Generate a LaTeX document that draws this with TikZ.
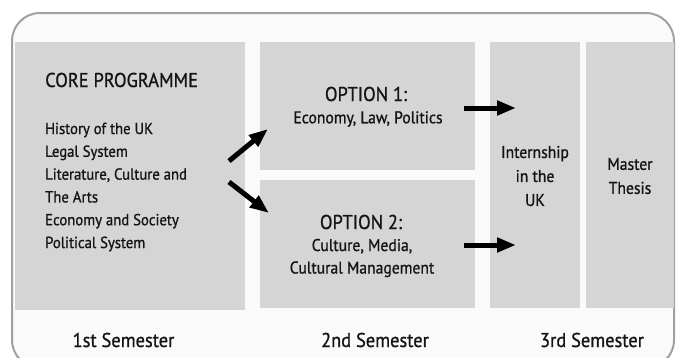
\documentclass[tikz,border=0pt]{standalone}
\usepackage{fontspec}
\setmainfont{PT Sans}[FakeStretch=0.92,FakeBold=0.9]
\usetikzlibrary{arrows.meta}
\definecolor{boxgray}{HTML}{D5D5D5}
\definecolor{framegray}{HTML}{A0A0A0}
\definecolor{txt}{HTML}{141414}
\definecolor{bg}{HTML}{FAFAFA}
\begin{document}
\begin{tikzpicture}[x=1pt,y=-1pt,
  box/.style={draw=none,fill=boxgray,anchor=north west,inner sep=0pt},
  lbl/.style={text=txt,inner sep=0pt},
  big/.style={lbl,font=\fontsize{20}{24}\selectfont},
  small/.style={lbl,font=\fontsize{16}{22.8}\selectfont},
  sub/.style={lbl,font=\fontsize{17}{22.5}\selectfont},
  mid/.style={lbl,font=\fontsize{17}{24}\selectfont},
  arr/.style={line width=5pt,-{Triangle[length=19pt,width=14pt]},black}]
\useasboundingbox (0,0) rectangle (681,357);
\clip (0,0) rectangle (681,357);
\fill[white] (0,0) rectangle (681,357);
\draw[draw=framegray,line width=2pt,fill=bg,rounded corners=28pt] (12,13) rectangle (674,368);
% boxes
\node[box,minimum width=230pt,minimum height=268pt] (core) at (15,42) {};
\node[box,minimum width=215pt,minimum height=128pt] (opt1) at (260,42) {};
\node[box,minimum width=215pt,minimum height=128pt] (opt2) at (260,180) {};
\node[box,minimum width=90pt,minimum height=266pt] (intern) at (490,42) {};
\node[box,minimum width=88pt,minimum height=266pt] (master) at (586,42) {};
% texts
\node[big,anchor=west] (coret) at (45,80) {CORE PROGRAMME};
\node[small,anchor=west,align=left] (corel) at (45,187) {History of the UK\\Legal System\\Literature, Culture and\\The Arts\\Economy and Society\\Political System};
\node[big] (o1t) at (366,94) {OPTION 1:};
\node[sub] (o1s) at (368,119) {Economy, Law, Politics};
\node[big] (o2t) at (361,222) {OPTION 2:};
\node[sub,align=center] (o2s) at (362,258) {Culture, Media,\\Cultural Management};
\node[mid,align=center] (it) at (535,176) {Internship\\in the\\UK};
\node[mid,align=center] (mt) at (630,176) {Master\\Thesis};
\node[big] (s1) at (123.5,340) {1st Semester};
\node[big] (s2) at (375,340) {2nd Semester};
\node[big] (s3) at (592,340) {3rd Semester};
% arrows
\coordinate (a1s) at (229,161);
\coordinate (a1e) at (268,129);
\coordinate (a2s) at (229,182);
\coordinate (a2e) at (269,213);
\coordinate (a3s) at (464,108);
\coordinate (a3e) at (516,108);
\coordinate (a4s) at (464,245);
\coordinate (a4e) at (516,245);
\draw[arr] (a1s) -- (a1e);
\draw[arr] (a2s) -- (a2e);
\draw[arr] (a3s) -- (a3e);
\draw[arr] (a4s) -- (a4e);
\end{tikzpicture}
\end{document}
